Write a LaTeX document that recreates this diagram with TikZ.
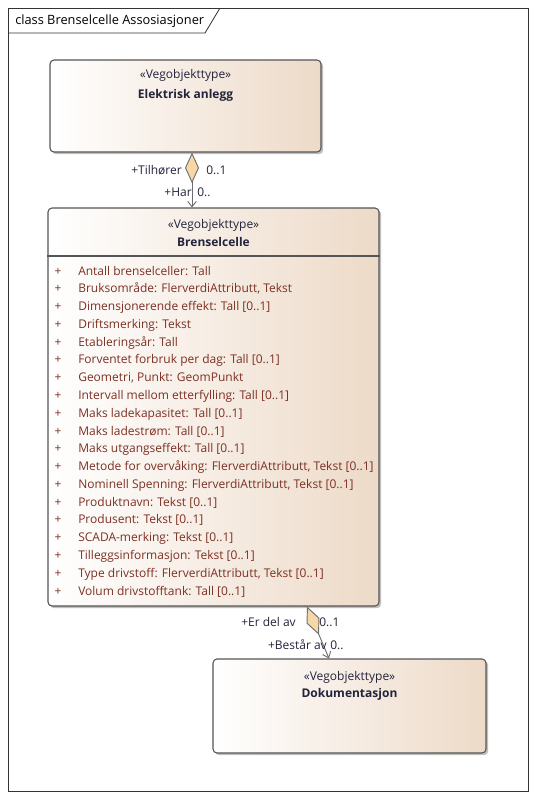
\documentclass[tikz,border=0pt]{standalone}
\usepackage{fontspec}
\setmainfont{Open Sans}
\usetikzlibrary{arrows.meta,shadows,fit,calc}
\definecolor{boxtan}{RGB}{237,218,200}
\definecolor{boxline}{RGB}{85,85,85}
\definecolor{attrcol}{RGB}{125,48,36}
\definecolor{namecol}{RGB}{35,35,60}
\definecolor{diamfill}{RGB}{246,216,166}
\definecolor{conncol}{RGB}{110,110,110}
\begin{document}
\begin{tikzpicture}[x=0.75pt,y=-0.75pt,
  every node/.style={font=\fontsize{9}{10.8}\selectfont, inner sep=0pt, text=namecol},
  classbox/.style={draw=boxline, line width=0.8pt, rounded corners=3pt,
    left color=white, right color=boxtan, inner sep=0pt,
    drop shadow={shadow xshift=1.6pt, shadow yshift=-1.6pt, fill=black, opacity=0.25}},
  stereo/.style={anchor=base},
  cname/.style={anchor=base, font=\fontsize{9}{10.8}\selectfont\bfseries},
  attr/.style={anchor=base west, text=attrcol},
  plus/.style={anchor=base, text=attrcol},
  rolelbl/.style={anchor=base east},
  multlbl/.style={anchor=base west},
  assoc/.style={draw=conncol, line width=0.7pt,
    {Diamond[length=23pt, width=10.5pt, fill=diamfill, line width=0.7pt]}-{Straight Barb[length=4pt, width=6.5pt, line width=0.7pt]}}
]
\useasboundingbox (0,0) rectangle (536,800);
% frame
\draw[line width=0.6pt, draw=black!80] (8,8) rectangle (528,791);
\draw[line width=0.6pt, draw=black!80] (8,33) -- (205,33) -- (220,8);
\node[anchor=base west, text=black, font=\fontsize{9.6}{11}\selectfont] (title) at (15,24) {class Brenselcelle Assosiasjoner};

% Elektrisk anlegg
\node[classbox, fit={(50,60) (321,152)}] (ea) {};
\node[stereo] (eas) at (185.5,78) {«Vegobjekttype»};
\node[cname] (ean) at (185.5,98) {Elektrisk anlegg};

% Brenselcelle
\node[classbox, fit={(48,208) (379,606)}] (bc) {};
\coordinate (hl) at (0,256);
\draw[draw=boxline, line width=0.8pt] (bc.west |- hl) -- (bc.east |- hl);
\node[stereo] (bcs) at (213.5,228) {«Vegobjekttype»};
\node[cname] (bcn) at (213.5,246) {Brenselcelle};
\foreach \t [count=\i from 0] in {
  {Antall brenselceller: Tall},
  {Bruksområde: FlerverdiAttributt, Tekst},
  {Dimensjonerende effekt: Tall [0..1]},
  {Driftsmerking: Tekst},
  {Etableringsår: Tall},
  {Forventet forbruk per dag: Tall [0..1]},
  {Geometri, Punkt: GeomPunkt},
  {Intervall mellom etterfylling: Tall [0..1]},
  {Maks ladekapasitet: Tall [0..1]},
  {Maks ladestrøm: Tall [0..1]},
  {Maks utgangseffekt: Tall [0..1]},
  {Metode for overvåking: FlerverdiAttributt, Tekst [0..1]},
  {Nominell Spenning: FlerverdiAttributt, Tekst [0..1]},
  {Produktnavn: Tekst [0..1]},
  {Produsent: Tekst [0..1]},
  {SCADA-merking: Tekst [0..1]},
  {Tilleggsinformasjon: Tekst [0..1]},
  {Type drivstoff: FlerverdiAttributt, Tekst [0..1]},
  {Volum drivstofftank: Tall [0..1]}} {
  \node[plus] (p\i) at (58,275+17.78*\i) {+};
  \node[attr] (a\i) at (78,275+17.78*\i) {\t};
}

% Dokumentasjon
\node[classbox, fit={(213,659) (486,753)}] (dok) {};
\node[stereo] (dks) at (349.5,680) {«Vegobjekttype»};
\node[cname] (dkn) at (349.5,697) {Dokumentasjon};

% association 1
\coordinate (c1) at (192,0);
\draw[assoc] (ea.south -| c1) -- (bc.north -| c1);
\node[rolelbl] (r1a) at (182,174) {+Tilhører};
\node[multlbl] (m1a) at (206,174) {0..1};
\node[rolelbl] (r1b) at (192,196) {+Har};
\node[multlbl] (m1b) at (197,196) {0..};

% association 2
\coordinate (c2) at (307,0);
\coordinate (c3) at (329,0);
\draw[assoc] (bc.south -| c2) -- (dok.north -| c3);
\node[rolelbl] (r2a) at (296,626) {+Er del av};
\node[multlbl] (m2a) at (319,626) {0..1};
\node[rolelbl] (r2b) at (327,649) {+Består av};
\node[multlbl] (m2b) at (330,649) {0..};
\end{tikzpicture}
\end{document}
